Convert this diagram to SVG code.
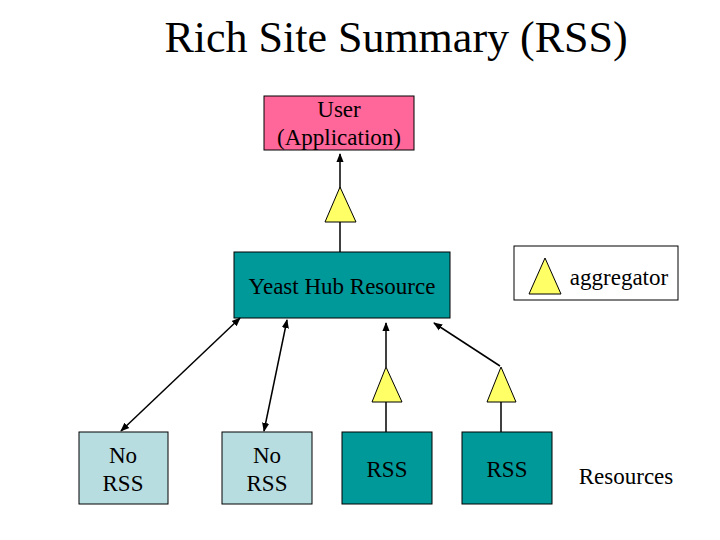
<svg xmlns="http://www.w3.org/2000/svg" width="720" height="540" viewBox="0 0 720 540">
<defs>
<style>
.tri{fill:#ffff66;stroke:#000;stroke-width:1}
.ln{stroke:#000;stroke-width:1.5;fill:none}
</style>
<marker id="ah" viewBox="0 0 10 10" refX="9" refY="5" markerWidth="6" markerHeight="6" orient="auto-start-reverse"><path d="M0,1 L10,5 L0,9 z" fill="#000"/></marker>
</defs>
<rect width="720" height="540" fill="#fff"/>
<g font-family="Liberation Serif, Times New Roman, DejaVu Serif, serif" fill="#000">
<text x="396" y="52" font-size="44" text-anchor="middle">Rich Site Summary (RSS)</text>
<g id="user"><rect x="264" y="96" width="150" height="54" fill="#ff6699" stroke="#000"/><text x="339" y="117" font-size="23" text-anchor="middle">User</text><text x="339" y="145" font-size="23" text-anchor="middle">(Application)</text></g>
<g id="hub"><rect x="234" y="252" width="216" height="66" fill="#009999" stroke="#000"/><text x="342" y="294" font-size="23" text-anchor="middle">Yeast Hub Resource</text></g>
<g id="legend"><rect x="514" y="246" width="164" height="54" fill="#fff" stroke="#000"/><polygon class="tri" points="545,258 529,294 561,294"/><text x="619" y="285" font-size="23" text-anchor="middle">aggregator</text></g>
<g id="n1"><rect x="79" y="432" width="89" height="72" fill="#b8dde1" stroke="#000"/><text x="123" y="463" font-size="23" text-anchor="middle">No</text><text x="123" y="491" font-size="23" text-anchor="middle">RSS</text></g>
<g id="n2"><rect x="222" y="432" width="90" height="72" fill="#b8dde1" stroke="#000"/><text x="267" y="463" font-size="23" text-anchor="middle">No</text><text x="267" y="491" font-size="23" text-anchor="middle">RSS</text></g>
<g id="n3"><rect x="342" y="432" width="90" height="72" fill="#009999" stroke="#000"/><text x="387" y="477" font-size="23" text-anchor="middle">RSS</text></g>
<g id="n4"><rect x="462" y="432" width="90" height="72" fill="#009999" stroke="#000"/><text x="507" y="477" font-size="23" text-anchor="middle">RSS</text></g>
<text x="626" y="484" font-size="23" text-anchor="middle">Resources</text>
</g>
<g id="connectors">
<line class="ln" x1="340" y1="252" x2="340" y2="154" stroke-width="1" marker-end="url(#ah)"/>
<line class="ln" x1="386" y1="432" x2="386" y2="402" stroke-width="1"/>
<line class="ln" x1="501" y1="432" x2="501" y2="402" stroke-width="1"/>
<line class="ln" x1="386" y1="367" x2="386" y2="323" stroke-width="2.5" marker-end="url(#ah)"/>
<line class="ln" x1="500" y1="366" x2="434" y2="323" marker-end="url(#ah)"/>
<line class="ln" x1="240" y1="318" x2="121" y2="431" marker-start="url(#ah)" marker-end="url(#ah)"/>
<line class="ln" x1="287" y1="320" x2="264" y2="431" marker-start="url(#ah)" marker-end="url(#ah)"/>
</g>
<polygon class="tri" points="340,187 325,222 356,222"/>
<polygon class="tri" points="386,367 372,402 402,402"/>
<polygon class="tri" points="501,367 487,402 516,402"/>
</svg>
